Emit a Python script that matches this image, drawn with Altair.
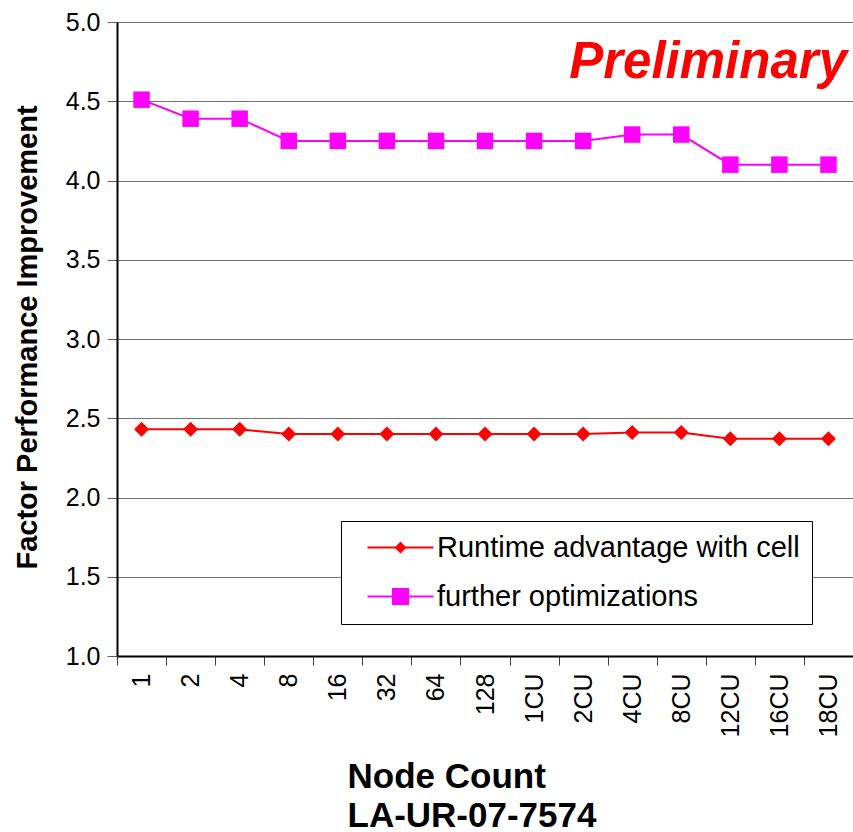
import altair as alt
import pandas as pd

# Node counts along the x axis and the two measured series
nodes = ["1", "2", "4", "8", "16", "32", "64", "128",
         "1CU", "2CU", "4CU", "8CU", "12CU", "16CU", "18CU"]
runtime = [2.43, 2.43, 2.43, 2.40, 2.40, 2.40, 2.40, 2.40,
           2.40, 2.40, 2.41, 2.41, 2.37, 2.37, 2.37]
further = [4.51, 4.39, 4.39, 4.25, 4.25, 4.25, 4.25, 4.25,
           4.25, 4.25, 4.29, 4.29, 4.10, 4.10, 4.10]

series_names = ["Runtime advantage with cell", "further optimizations"]
series_colors = ["#FF0000", "#FF00FF"]
series_shapes = ["diamond", "square"]
series_sizes = [225, 272]
y_ticks = [1.0, 1.5, 2.0, 2.5, 3.0, 3.5, 4.0, 4.5, 5.0]
stamp = ["Preliminary"]

df = pd.DataFrame({
    "Node": nodes * 2,
    "Value": runtime + further,
    "Series": [series_names[0]] * len(nodes) + [series_names[1]] * len(nodes),
})

FONT = "Liberation Sans, Arial, Helvetica, sans-serif"

x_enc = alt.X(
    "Node:N", sort=nodes,
    scale=alt.Scale(type="band", paddingInner=0, paddingOuter=0),
    axis=alt.Axis(
        title=["Node Count", "LA-UR-07-7574"],
        titleFont=FONT, titleFontSize=35, titleFontWeight="bold",
        titleColor="black", titleAlign="left", titleX=230, titleY=131,
        titleBaseline="alphabetic", titleLineHeight=39,
        labelAngle=270, labelAlign="right", labelBaseline="middle",
        labelFont=FONT, labelFontSize=25, labelColor="black",
        labelPadding=8, tickSize=9, tickBand="extent",
        tickColor="#404040", tickWidth=1,
        domainColor="black", domainWidth=2, grid=False,
    ),
)

y_enc = alt.Y(
    "Value:Q",
    scale=alt.Scale(domain=[1, 5], nice=False, zero=False),
    axis=alt.Axis(
        values=y_ticks, format=".1f",
        title="Factor Performance Improvement",
        titleFont=FONT, titleFontSize=29, titleFontWeight="bold",
        titleColor="black", titleAngle=270, titleX=-90, titleY=315,
        titleAlign="center", titleBaseline="middle",
        labelFont=FONT, labelFontSize=25, labelColor="black",
        labelPadding=7, tickSize=10, tickColor="#606060",
        domainColor="black", domainWidth=2,
        grid=True, gridColor="#707070", gridWidth=1,
    ),
)

series_scale = alt.Scale(domain=series_names, range=series_colors)

lines = alt.Chart(df).mark_line(strokeWidth=2).encode(
    x=x_enc, y=y_enc,
    stroke=alt.Stroke("Series:N", scale=series_scale, legend=None),
)

# One marker layer per series, each with its own symbol and size
marker_layers = [
    alt.Chart(df).transform_filter(alt.datum.Series == name)
    .mark_point(filled=True, opacity=1, shape=shape, size=size, color=col)
    .encode(x=x_enc, y=y_enc)
    for name, shape, size, col in zip(series_names, series_shapes, series_sizes, series_colors)
]

# Legend symbols: a thin bar (the line) with the series marker on it
legend_paths = [
    "M-3.3,-0.1H3.3V0.1H-3.3ZM0,-0.6L0.6,0L0,0.6L-0.6,0Z",
    "M-3.3,-0.1H3.3V0.1H-3.3ZM-0.85,-0.85H0.85V0.85H-0.85Z",
]
legend_def = alt.Legend(
    title=None, orient="none", legendX=224, legendY=499,
    strokeColor="black", fillColor="white", padding=12,
    symbolSize=400, symbolStrokeWidth=0, symbolOffset=33,
    labelOffset=22, labelFont=FONT, labelFontSize=29,
    labelColor="black", labelLimit=0, rowPadding=19,
)

legend_layer = alt.Chart(df).mark_point(filled=True, opacity=1, clip=True).encode(
    x=x_enc, y=alt.value(-1000),
    color=alt.Color("Series:N", scale=series_scale, legend=legend_def),
    shape=alt.Shape("Series:N", scale=alt.Scale(domain=series_names, range=legend_paths), legend=legend_def),
)

label = alt.Chart(pd.DataFrame({"t": stamp})).mark_text(
    align="right", baseline="alphabetic", font=FONT, fontSize=51,
    fontWeight="bold", fontStyle="italic", color="#FF0000",
).encode(text="t:N", x=alt.value(730), y=alt.value(56))

chart = (
    alt.layer(lines, *marker_layers, legend_layer, label)
    .resolve_scale(color="independent", shape="independent")
    .properties(
        width=736, height=634,
        autosize=alt.AutoSizeParams(type="none"),
        padding={"left": 117, "top": 22, "right": 0, "bottom": 176},
        background="white",
    )
    .configure_view(strokeWidth=0)
)

chart.save("out.html", embed_options={"renderer": "svg", "actions": False})
